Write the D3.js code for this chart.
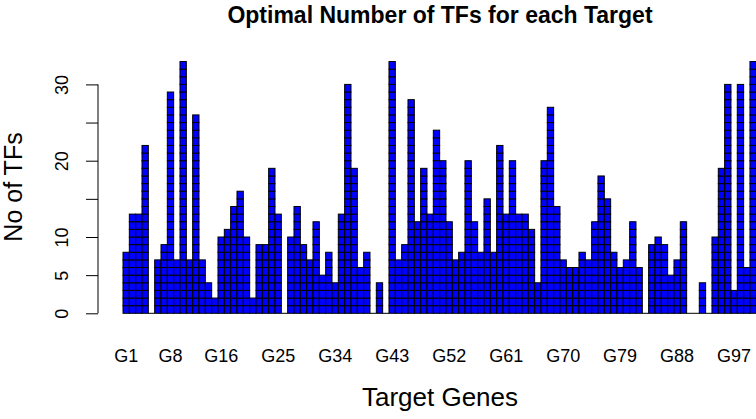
<!DOCTYPE html>
<html>
<head>
<meta charset="utf-8">
<script src="https://cdn.jsdelivr.net/npm/d3@7"></script>
<style>
  body { margin: 0; background: #fff; }
  svg { display: block; font-family: "Liberation Sans", Arial, Helvetica, sans-serif; }
</style>
</head>
<body>
<div id="chart"></div>
<script>
// number of TFs for each target gene G1..G100
const genes = d3.range(1, 101).map((i) => "G" + i);
const tfCounts = [
  8, 13, 13, 22, 0, 7, 9, 29, 7, 33,
  7, 26, 7, 4, 2, 10, 11, 14, 16, 10,
  2, 9, 9, 19, 13, 0, 10, 14, 9, 7,
  12, 5, 8, 4, 13, 30, 19, 6, 8, 0,
  4, 0, 33, 7, 9, 28, 12, 19, 13, 24,
  20, 12, 7, 8, 20, 12, 8, 15, 8, 22,
  13, 20, 13, 13, 11, 4, 20, 27, 14, 7,
  6, 6, 8, 7, 12, 18, 15, 8, 6, 7,
  12, 6, 0, 9, 10, 9, 5, 7, 12, 0,
  0, 4, 0, 10, 19, 30, 3, 30, 6, 33
];
const shownLabels = ["G1", "G8", "G16", "G25", "G34", "G43", "G52", "G61", "G70", "G79", "G88", "G97"];
const yTicks = [0, 5, 10, 15, 20, 25, 30];
const yTickLabels = [0, 5, 10, 20, 30];

const width = 756, height = 419;

const svg = d3
  .select("#chart")
  .append("svg")
  .attr("width", width)
  .attr("height", height);

const x = d3.scaleBand().domain(genes).range([123, 756.3]).padding(0);
const y = d3.scaleLinear().domain([0, 30]).range([313.3, 84.4]);

// bars drawn as stacks of unit cells
const bars = svg
  .selectAll(".bar")
  .data(genes.map((g, i) => ({ gene: g, value: tfCounts[i] })))
  .enter()
  .append("g")
  .attr("class", "bar");

bars
  .selectAll("rect")
  .data((d) => d3.range(d.value).map((k) => ({ gene: d.gene, k: k })))
  .enter()
  .append("rect")
  .attr("x", (c) => x(c.gene))
  .attr("y", (c) => y(c.k + 1))
  .attr("width", x.bandwidth())
  .attr("height", (c) => y(c.k) - y(c.k + 1))
  .attr("fill", "#0000ff")
  .attr("stroke", "#000")
  .attr("stroke-width", 1);

// zero-height bars leave a flat line on the baseline
bars
  .filter((d) => d.value === 0)
  .append("line")
  .attr("x1", (d) => x(d.gene))
  .attr("x2", (d) => x(d.gene) + x.bandwidth())
  .attr("y1", y(0))
  .attr("y2", y(0))
  .attr("stroke", "#000");

// y axis, labels turned like R's las=0
const yAxis = d3
  .axisLeft(y)
  .tickValues(yTicks)
  .tickSize(12)
  .tickFormat((d) => (yTickLabels.includes(d) ? d : ""));

const gy = svg.append("g").attr("transform", "translate(98,0)").call(yAxis);
gy.select(".domain").attr("d", "M0," + y(0) + "V" + y(30));
gy.selectAll("text")
  .attr("font-size", 18)
  .attr("fill", "#000")
  .attr("x", 0)
  .attr("y", 0)
  .attr("dy", 0)
  .attr("text-anchor", "middle")
  .attr("transform", "translate(-30,0) rotate(-90)");

// x labels (only the non-overlapping ones are shown)
svg
  .append("g")
  .selectAll("text")
  .data(shownLabels)
  .enter()
  .append("text")
  .attr("x", (d) => x(d) + x.bandwidth() / 2)
  .attr("y", 362)
  .attr("text-anchor", "middle")
  .attr("font-size", 18)
  .text((d) => d);

svg
  .append("text")
  .attr("x", 440)
  .attr("y", 23)
  .attr("text-anchor", "middle")
  .attr("font-size", 23)
  .attr("font-weight", "bold")
  .text("Optimal Number of TFs for each Target");

svg
  .append("text")
  .attr("x", 440)
  .attr("y", 406)
  .attr("text-anchor", "middle")
  .attr("font-size", 26)
  .text("Target Genes");

svg
  .append("text")
  .attr("transform", "translate(22,187) rotate(-90)")
  .attr("text-anchor", "middle")
  .attr("font-size", 25)
  .text("No of TFs");
</script>
</body>
</html>
